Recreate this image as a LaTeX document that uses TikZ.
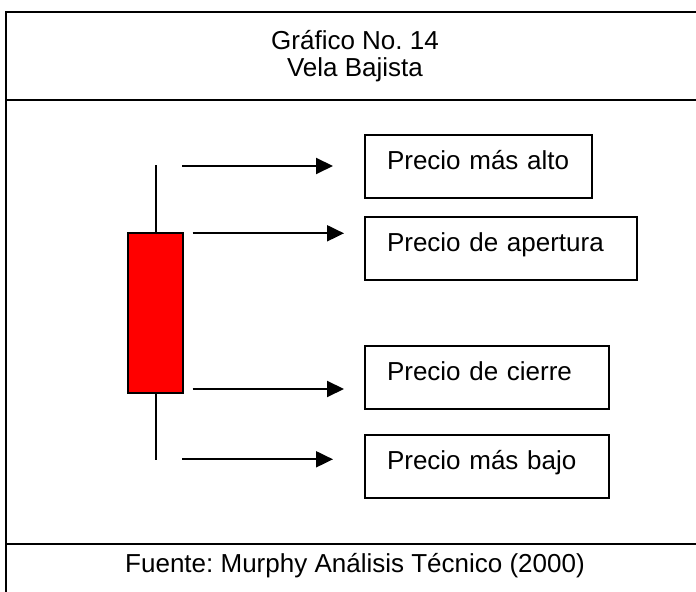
\documentclass[tikz,border=0pt]{standalone}
\usepackage{fontspec}
\setmainfont{Liberation Sans}
\usetikzlibrary{calc}
\usetikzlibrary{arrows.meta}
\frenchspacing

\tikzset{
  rotulo/.style={anchor=base, inner sep=0pt, font=\fontsize{13}{15}\selectfont},
  precio/.style={draw, anchor=north west, inner xsep=11pt, inner ysep=0pt,
    text height=17.5pt, text depth=14pt, align=left, font=\fontsize{13}{15}\selectfont},
  vela/.style={draw, fill=red, inner sep=0pt, minimum width=27.2pt, minimum height=80pt},
  flecha/.style={-{Triangle[length=8.5pt,width=8pt]}}
}

\begin{document}
\begin{tikzpicture}[x=0.5pt,y=-0.5pt,line width=1pt]
  \useasboundingbox (0,0) rectangle (696,592);
  \clip (0,0) rectangle (696,592);
  % marco
  \draw (5.5,12.3) rectangle (705,620);
  \draw (5.5,100.5) -- (705,100.5);
  \draw (5.5,544) -- (705,544);
  \node [rotulo] (titulo) at (355,49.3) {Gráfico No. 14};
  \node [rotulo] (subtitulo) at (355,76.7) {Vela Bajista};
  \node [rotulo] (fuente) at (355,573) {Fuente: Murphy Análisis Técnico (2000)};
  % vela
  \node [vela] (cuerpo) at (155.5,313.3) {};
  \draw (cuerpo.north) -- (cuerpo.north |- 0,165);
  \draw (cuerpo.south) -- (cuerpo.south |- 0,460);
  % cajas
  \node [precio, text width=91.5pt] (alto) at (364,134) {Precio más alto};
  \node [precio, text width=114pt] (apertura) at (364,216) {Precio de apertura};
  \node [precio, text width=100pt] (cierre) at (364,345) {Precio de cierre};
  \node [precio, text width=100pt] (bajo) at (364,434) {Precio más bajo};
  % flechas
  \coordinate (maxA) at (182,166);
  \coordinate (apeA) at (192.7,233.3);
  \coordinate (cieA) at (192.7,389);
  \coordinate (minA) at (182,459.3);
  \draw [flecha, shorten >=15.5pt] (maxA) -- (maxA -| alto.west);
  \draw [flecha, shorten >=10pt] (apeA) -- (apeA -| apertura.west);
  \draw [flecha, shorten >=10pt] (cieA) -- (cieA -| cierre.west);
  \draw [flecha, shorten >=15.5pt] (minA) -- (minA -| bajo.west);
\end{tikzpicture}
\end{document}
